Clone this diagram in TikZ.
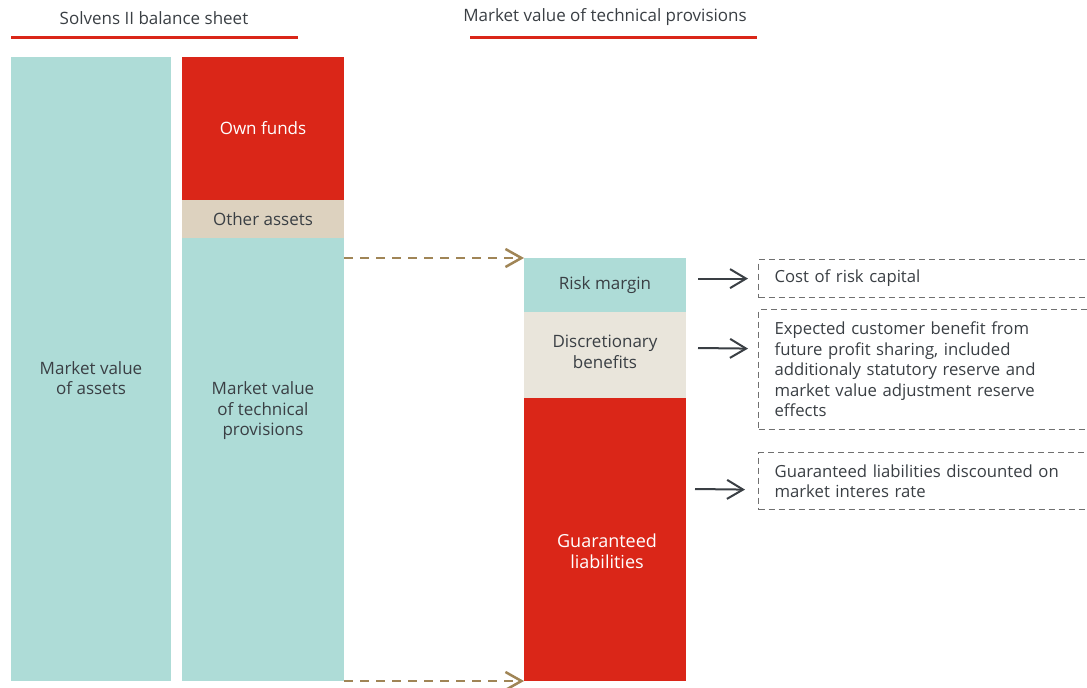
\documentclass[tikz,border=0pt]{standalone}
\usepackage{fontspec}
\setmainfont{Open Sans}
\usetikzlibrary{arrows.meta}
\definecolor{mvteal}{HTML}{AEDCD7}
\definecolor{mvred}{HTML}{DA2618}
\definecolor{mvsand}{HTML}{DDD2BF}
\definecolor{mvcream}{HTML}{E9E5DB}
\definecolor{mvbrown}{HTML}{A08556}
\definecolor{mvgray}{HTML}{707070}
\definecolor{mvtext}{HTML}{3A3F44}
\tikzstyle{block}=[inner sep=0pt,outer sep=0pt,align=center,text=mvtext,font=\fontsize{17}{20.5}\selectfont]
\tikzstyle{redblock}=[block,fill=mvred,text=white]
\tikzstyle{note}=[draw=mvgray,dashed,dash pattern=on 6pt off 4pt,line width=1.2pt,anchor=north west,inner xsep=16pt,inner ysep=0pt,text width=302pt,minimum width=334pt,align=left,text=mvtext,font=\fontsize{16.7}{20.5}\selectfont]
\tikzstyle{title}=[text=mvtext,font=\fontsize{17}{20}\selectfont]
\tikzstyle{flow}=[draw=mvbrown,line width=2.5pt,dash pattern=on 9pt off 7pt,-{Straight Barb[length=16pt,width=18pt,line width=2.5pt]}]
\tikzstyle{hint}=[draw=mvtext,line width=2pt,-{Straight Barb[length=16pt,width=19pt,line width=2pt]}]

\begin{document}
\begin{tikzpicture}[x=1pt,y=-1pt]
\useasboundingbox (0,0) rectangle (1087,688);
\node[title] (balance) at (154,18) {Solvens II balance sheet};
\node[title] (provisions) at (605,17) {Market value of technical provisions};
\draw[mvred,line width=3pt] (11,37) -- (298,37);
\draw[mvred,line width=3pt] (470,37) -- (757,37);

\node[block,fill=mvteal,minimum width=160pt,minimum height=624pt] (assets) at (91,369) {};
\node[block] (assetstext) at (91,378) {Market value\\of assets};

\node[redblock,minimum width=162pt,minimum height=143pt] (own) at (263,128.5) {Own funds};
\node[block,fill=mvsand,minimum width=162pt,minimum height=38pt] (other) at (263,219) {Other assets};
\node[block,fill=mvteal,minimum width=162pt,minimum height=443pt] (tp) at (263,459.5) {};
\node[block] (tptext) at (263,411) {Market value\\of technical\\provisions};

\node[block,fill=mvteal,minimum width=162pt,minimum height=54pt] (rm) at (605,285) {Risk margin};
\node[block,fill=mvcream,minimum width=162pt,minimum height=86pt] (db) at (605,355) {};
\node[block] (dbtext) at (605,352) {Discretionary\\benefits};
\node[redblock,minimum width=162pt,minimum height=283pt] (gl) at (605,539.5) {};
\node[block,text=white,font=\fontsize{18}{21}\selectfont] (gltext) at (607,551) {Guaranteed\\liabilities};

\node[note,minimum height=38pt] (cost) at (758,259) {Cost of risk capital};
\node[note,minimum height=120pt] (benefit) at (758,309) {Expected customer benefit from\\future profit sharing, included\\additionaly statutory reserve and\\market value adjustment reserve\\effects};
\node[note,minimum height=57pt] (rate) at (758,452) {Guaranteed liabilities discounted on\\market interes rate};

\draw[flow] (tp.east |- rm.north west) -- (rm.north west);
\draw[flow] (tp.south east) -- (gl.south west);

\draw[hint] ([xshift=12pt]rm.east |- cost.west) -- ([xshift=-10pt]cost.west);
\draw[hint] ([shift={(12pt,7pt)}]db.east) -- ([shift={(-10pt,21pt)}]benefit.west);
\draw[hint] ([shift={(9pt,50.5pt)}]gl.east) -- ([shift={(-13pt,-8.5pt)}]rate.west);
\end{tikzpicture}
\end{document}
